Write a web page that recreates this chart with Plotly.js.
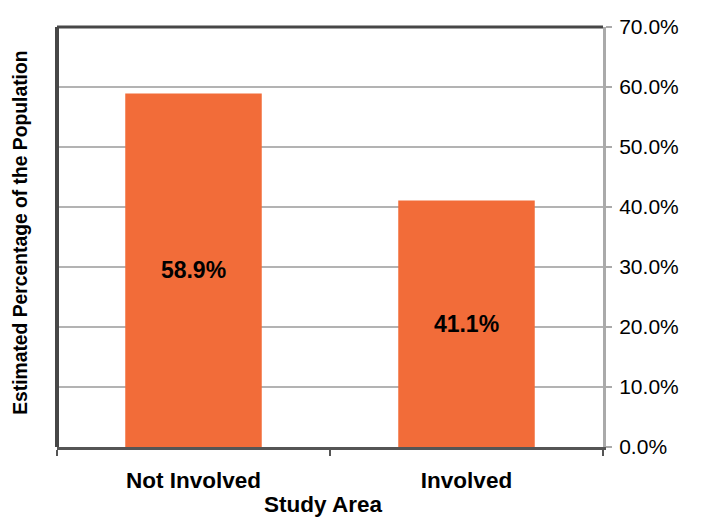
<!DOCTYPE html>
<html>
<head>
<meta charset="utf-8">
<script src="https://cdn.plot.ly/plotly-3.0.1.min.js"></script>
<style>html,body{margin:0;padding:0;background:#fff;}#chart{width:702px;height:519px;}</style>
</head>
<body>
<div id="chart"></div>
<script>
const categories = ["Not Involved", "Involved"];
const values = [58.9, 41.1];
const barLabels = ["58.9%", "41.1%"];
const yTickVals = [0, 10, 20, 30, 40, 50, 60, 70];
const yTickText = ["0.0%", "10.0%", "20.0%", "30.0%", "40.0%", "50.0%", "60.0%", "70.0%"];

const FONT = "Liberation Sans, Arial, sans-serif";

const trace = {
  type: "bar",
  x: categories,
  y: values,
  text: barLabels,
  textposition: "inside",
  insidetextanchor: "middle",
  textangle: 0,
  textfont: {family: FONT, size: 23, color: "#000", weight: "bold"},
  marker: {color: "#F26C39", line: {width: 0}},
  width: 0.5,
  hoverinfo: "none"
};

const layout = {
  width: 702, height: 519,
  margin: {l: 57, r: 99, t: 27, b: 72},
  paper_bgcolor: "#fff",
  plot_bgcolor: "#fff",
  showlegend: false,
  font: {family: FONT, color: "#000"},
  xaxis: {
    type: "category",
    tickson: "boundaries",
    ticks: "outside",
    ticklen: 6,
    tickwidth: 2,
    tickcolor: "#555",
    showline: true,
    linecolor: "#555",
    linewidth: 3,
    showgrid: false,
    ticklabelstandoff: 11,
    tickfont: {family: FONT, size: 22.5, color: "#000", weight: "bold"},
    fixedrange: true
  },
  yaxis: {
    side: "right",
    range: [0, 70],
    tickvals: yTickVals,
    ticktext: yTickText,
    ticks: "outside",
    ticklen: 6,
    tickwidth: 2,
    tickcolor: "#aaa",
    showline: true,
    linecolor: "#aaa",
    linewidth: 3,
    showgrid: true,
    gridcolor: "#b3b3b3",
    gridwidth: 2.5,
    zeroline: false,
    ticklabelstandoff: 3,
    tickfont: {family: FONT, size: 21, color: "#000"},
    fixedrange: true
  },
  shapes: [
    {type: "line", xref: "paper", yref: "paper", x0: 0, x1: 0, y0: 0, y1: 1, line: {color: "#474747", width: 4}},
    {type: "line", xref: "paper", yref: "paper", x0: 0, x1: 1, y0: 1, y1: 1, line: {color: "#474747", width: 3}}
  ],
  annotations: [
    {
      text: "Estimated Percentage of the Population",
      xref: "paper", yref: "paper",
      x: -36 / 546, y: 0.51,
      xanchor: "center", yanchor: "middle",
      textangle: -90, showarrow: false,
      font: {family: FONT, size: 19.3, color: "#000", weight: "bold"}
    },
    {
      text: "Study Area",
      xref: "paper", yref: "paper",
      x: 266 / 546, y: -57 / 420,
      xanchor: "center", yanchor: "middle",
      showarrow: false,
      font: {family: FONT, size: 22.5, color: "#000", weight: "bold"}
    }
  ]
};

Plotly.newPlot("chart", [trace], layout, {displayModeBar: false, staticPlot: true});
</script>
</body>
</html>
